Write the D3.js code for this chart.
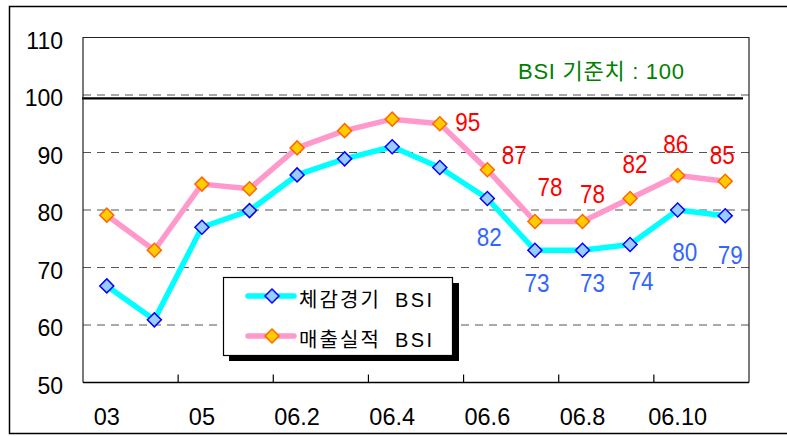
<!DOCTYPE html>
<html>
<head>
<meta charset="utf-8">
<script src="https://cdn.jsdelivr.net/npm/d3@7"></script>
<style>
  body { margin: 0; background: #fff; }
  text { font-family: "Liberation Sans", "Noto Sans CJK KR", sans-serif; }
</style>
</head>
<body>
<div id="chart"></div>
<script>
// months on the x axis (every other one is labelled)
var categories = ["03", "04", "05", "06.1", "06.2", "06.3", "06.4", "06.5", "06.6", "06.7", "06.8", "06.9", "06.10", "06.11"];
var tickLabels = ["03", "05", "06.2", "06.4", "06.6", "06.8", "06.10"];
// 체감경기 BSI
var sentiment = [66.8, 60.9, 77.0, 79.9, 86.1, 88.9, 91.0, 87.4, 82, 73, 73, 74, 80, 79];
// 매출실적 BSI
var sales = [79.1, 73.0, 84.5, 83.7, 90.8, 93.8, 95.8, 95, 87, 78, 78, 82, 86, 85];
var yTicks = [50, 60, 70, 80, 90, 100, 110];
var gridValues = [60, 70, 80, 90, 100];
var referenceLevel = 99.4;

// hand placed value labels (pixel offsets from the marker), null = no label
var salesLabelOffset = [null, null, null, null, null, null, null,
    [28, -2], [27, -15], [15, -35], [10, -28], [5, -35], [-2, -32], [-3, -27]];
var sentimentLabelOffset = [null, null, null, null, null, null, null, null,
    [2, 38], [2, 32], [10, 32], [11, 36], [7, 42], [5, 39]];

var width = 787, height = 436;
var plot = {left: 83, right: 749, top: 37.5, bottom: 382.5};

var svg = d3.select("#chart").append("svg")
    .attr("width", width)
    .attr("height", height);

svg.append("rect").attr("width", width).attr("height", height).attr("fill", "#fff");

// outer frame
svg.append("rect")
    .attr("x", 9.5).attr("y", 6.5)
    .attr("width", 800).attr("height", 427)
    .attr("fill", "none").attr("stroke", "#000").attr("stroke-width", 1.5);

var x = d3.scaleBand().domain(categories).range([plot.left, plot.right]);
var y = d3.scaleLinear().domain([50, 110]).range([plot.bottom, plot.top]);
var cx = function(i){ return x(categories[i]) + x.bandwidth() / 2; };

// grid
svg.selectAll(".grid")
    .data(gridValues)
    .enter().append("line")
    .attr("x1", plot.left).attr("x2", plot.right)
    .attr("y1", function(d){ return y(d); })
    .attr("y2", function(d){ return y(d); })
    .attr("stroke", "#555")
    .attr("stroke-width", 1.2)
    .attr("stroke-dasharray", "8,6");

// reference line just under 100
svg.append("line")
    .attr("x1", plot.left - 1).attr("x2", plot.right - 6)
    .attr("y1", y(referenceLevel)).attr("y2", y(referenceLevel))
    .attr("stroke", "#000").attr("stroke-width", 2.2);

// plot border (left, top, right)
svg.append("path")
    .attr("d", "M" + plot.left + "," + plot.bottom + "V" + plot.top + "H" + plot.right + "V" + plot.bottom)
    .attr("fill", "none").attr("stroke", "#222").attr("stroke-width", 1.2);

// x axis line and inner ticks at every second band boundary
svg.append("line")
    .attr("x1", plot.left).attr("x2", plot.right)
    .attr("y1", plot.bottom).attr("y2", plot.bottom)
    .attr("stroke", "#000").attr("stroke-width", 1.5);

var tickCats = categories.filter(function(d, i){ return i > 0 && i % 2 == 0; });
svg.selectAll(".xtick")
    .data(tickCats)
    .enter().append("line")
    .attr("x1", function(d){ return x(d); })
    .attr("x2", function(d){ return x(d); })
    .attr("y1", plot.bottom).attr("y2", plot.bottom - 8)
    .attr("stroke", "#000").attr("stroke-width", 1.2);

svg.selectAll(".xlabel")
    .data(tickLabels)
    .enter().append("text")
    .attr("x", function(d){ return x(d) + x.bandwidth() / 2; })
    .attr("y", 425)
    .attr("text-anchor", "middle")
    .style("font-size", "23.5px")
    .text(function(d){ return d; });

svg.selectAll(".ylabel")
    .data(yTicks)
    .enter().append("text")
    .attr("x", 63)
    .attr("y", function(d){ return y(d) + 11; })
    .attr("text-anchor", "end")
    .style("font-size", "23px")
    .text(function(d){ return d; });

// green note
svg.append("text")
    .attr("x", 518).attr("y", 79)
    .attr("fill", "#008000")
    .attr("textLength", 166)
    .attr("lengthAdjust", "spacing")
    .style("font-size", "22px")
    .text("BSI 기준치 : 100");

var line = d3.line()
    .x(function(d, i){ return cx(i); })
    .y(function(d){ return y(d); });

var diamond = d3.symbol().type(d3.symbolSquare).size(98);

var series = [
    {values: sales, stroke: "#FF99CC", fill: "#FFCC00", edge: "#FF6600", labelColor: "#FF0000", offsets: salesLabelOffset},
    {values: sentiment, stroke: "#00FFFF", fill: "#99CCFF", edge: "#0000FF", labelColor: "#3366FF", offsets: sentimentLabelOffset}
];

series.forEach(function(s){
    svg.append("path")
        .datum(s.values)
        .attr("d", line)
        .attr("fill", "none")
        .attr("stroke", s.stroke)
        .attr("stroke-width", 5.5)
        .attr("stroke-linejoin", "round");
});

series.forEach(function(s){
    svg.selectAll(null)
        .data(s.values)
        .enter().append("path")
        .attr("d", diamond)
        .attr("transform", function(d, i){ return "translate(" + cx(i) + "," + y(d) + ") rotate(45)"; })
        .attr("fill", s.fill)
        .attr("stroke", s.edge)
        .attr("stroke-width", 1.5);

    svg.selectAll(null)
        .data(s.values.map(function(v, i){ return {v: v, i: i, o: s.offsets[i]}; })
            .filter(function(d){ return d.o; }))
        .enter().append("text")
        .attr("x", function(d){ return cx(d.i) + d.o[0] - 12.5; })
        .attr("y", function(d){ return y(d.v) + d.o[1] + 9.3; })
        .attr("textLength", 25)
        .attr("lengthAdjust", "spacingAndGlyphs")
        .attr("fill", s.labelColor)
        .style("font-size", "26px")
        .text(function(d){ return Math.round(d.v); });
});

// legend
var legend = svg.append("g");
legend.append("rect")
    .attr("x", 229).attr("y", 283).attr("width", 230).attr("height", 78)
    .attr("fill", "#000");
legend.append("rect")
    .attr("x", 223.5).attr("y", 277.5).attr("width", 229).attr("height", 78)
    .attr("fill", "#fff").attr("stroke", "#000").attr("stroke-width", 1.2);

var legendItems = [
    {name: "체감경기", s: series[1], ly: 296},
    {name: "매출실적", s: series[0], ly: 336}
];
legendItems.forEach(function(item){
    legend.append("line")
        .attr("x1", 248).attr("x2", 294)
        .attr("y1", item.ly).attr("y2", item.ly)
        .attr("stroke", item.s.stroke).attr("stroke-width", 5.5)
        .attr("stroke-linecap", "round");
    legend.append("path")
        .attr("d", diamond)
        .attr("transform", "translate(272," + item.ly + ") rotate(45)")
        .attr("fill", item.s.fill)
        .attr("stroke", item.s.edge)
        .attr("stroke-width", 1.5);
    legend.append("text")
        .attr("x", 299).attr("y", item.ly + 10.5)
        .attr("textLength", 80)
        .attr("lengthAdjust", "spacing")
        .style("font-size", "20px")
        .text(item.name);
    legend.append("text")
        .attr("x", 395).attr("y", item.ly + 10.5)
        .attr("textLength", 37)
        .attr("lengthAdjust", "spacing")
        .style("font-size", "20px")
        .text("BSI");
});
</script>
</body>
</html>
